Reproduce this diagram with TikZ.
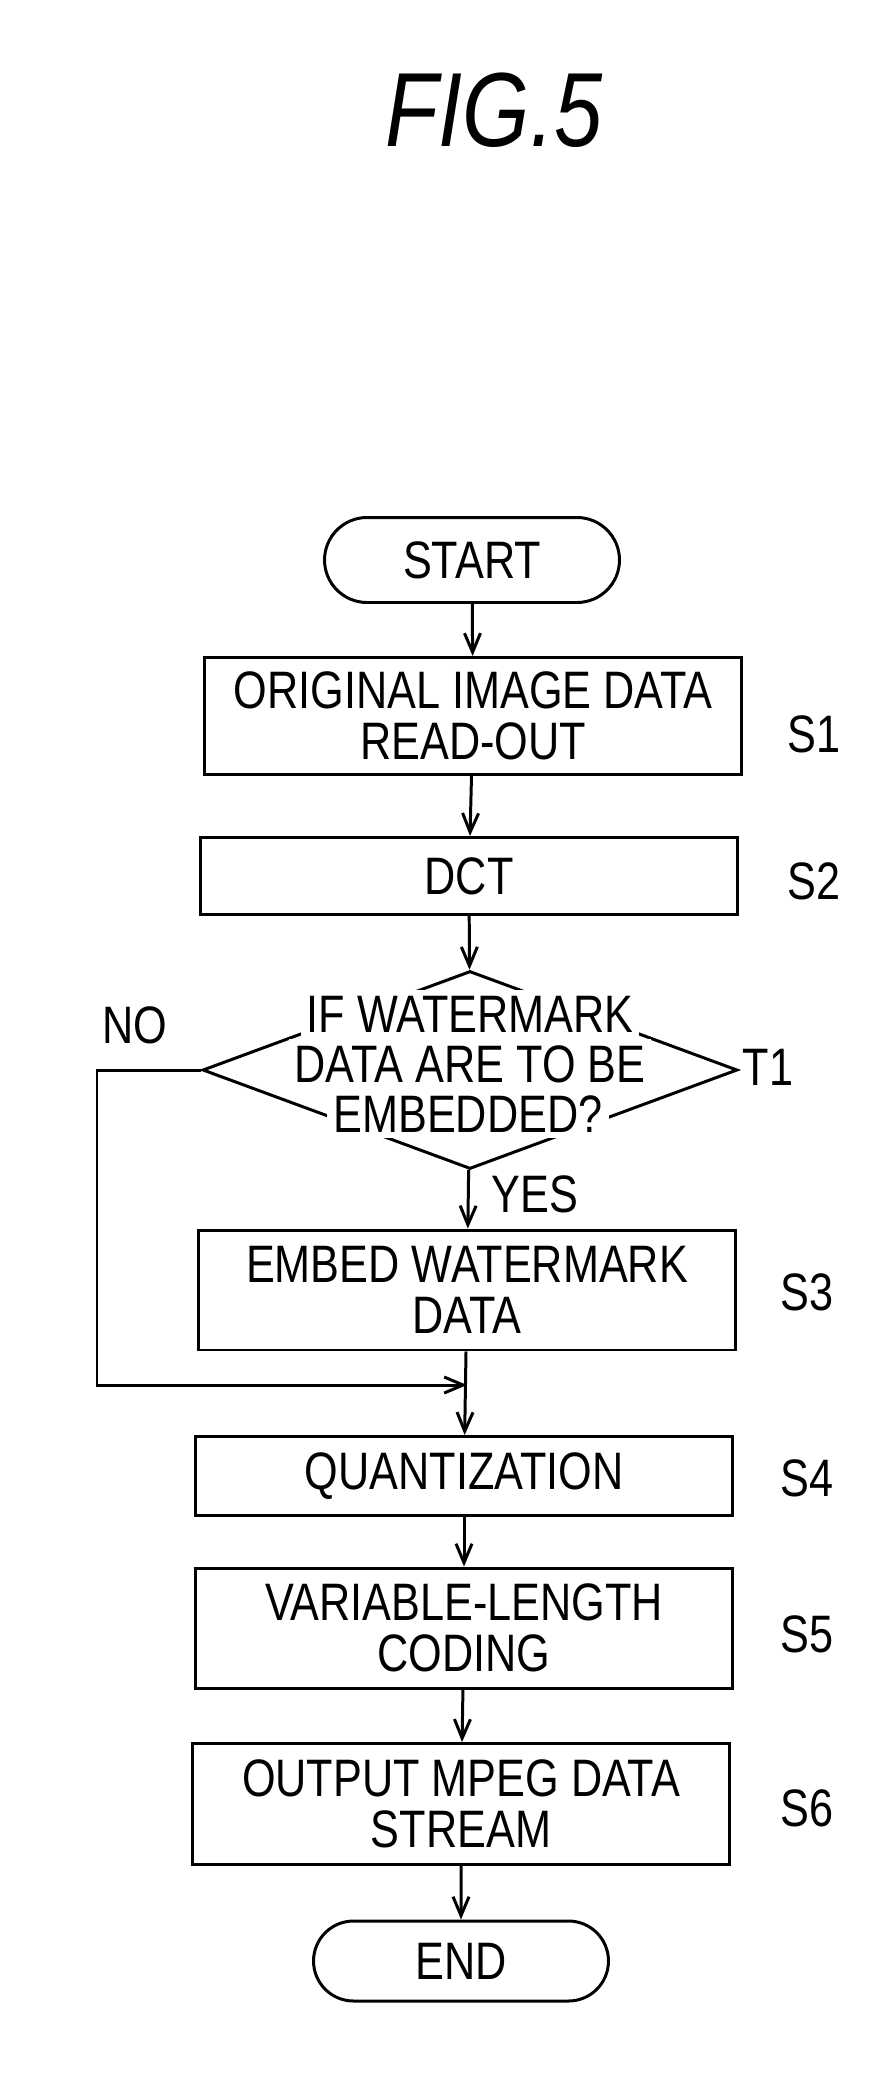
\documentclass[tikz,border=0pt]{standalone}
\usepackage{fontspec}
\setmainfont[FakeStretch=0.82]{Liberation Sans}
\usetikzlibrary{shapes.geometric,shapes.misc,arrows.meta}

\begin{document}
\begin{tikzpicture}[x=0.02cm,y=-0.02cm,line width=1.7pt,
  every node/.style={inner sep=0pt,font=\fontsize{30}{29}\selectfont},
  stepbox/.style={draw,rectangle,minimum width=10.75cm,align=center},
  termbox/.style={draw,rounded rectangle,minimum width=5.9cm,minimum height=1.7cm},
  testbox/.style={draw,diamond,minimum width=10.7cm,minimum height=3.96cm},
  testline/.style={fill=white,inner sep=3.5pt,anchor=base},
  flow/.style={-{Straight Barb[length=0.38cm,width=0.32cm]}}]
\useasboundingbox (0,0) rectangle (894,2091);
\node (fig) at (494,110) {\fontsize{60}{62}\selectfont\itshape FIG.5};
\node [termbox] (start) at (472,560) {START};
\node [stepbox,minimum height=2.34cm] (s1) at (473,716) {ORIGINAL IMAGE DATA\\READ-OUT};
\node [stepbox,minimum height=1.54cm] (s2) at (469,876) {DCT};
\node [testbox] (t1) at (470,1070) {};
\node [testline] (t1a) at (470,1032) {IF WATERMARK};
\node [testline] (t1b) at (470,1082) {DATA ARE TO BE};
\node [testline] (t1c) at (468,1132) {EMBEDDED?};
\node [stepbox,minimum height=2.4cm] (s3) at (467,1290) {EMBED WATERMARK\\DATA};
\node [stepbox,minimum height=1.58cm] (s4) at (464,1476) {QUANTIZATION};
\node [stepbox,minimum height=2.4cm] (s5) at (464,1628) {VARIABLE-LENGTH\\CODING};
\node [stepbox,minimum height=2.42cm] (s6) at (461,1804) {OUTPUT MPEG DATA\\STREAM};
\node [termbox,minimum height=1.6cm] (end) at (461,1961) {END};
% step labels
\node (ls1) at (814,734) {S1};
\node (ls2) at (814,881) {S2};
\node (lt1) at (768,1067) {T1};
\node (ls3) at (807,1292) {S3};
\node (ls4) at (807,1478) {S4};
\node (ls5) at (807,1634) {S5};
\node (ls6) at (807,1808) {S6};
\node (lno) at (135,1025) {NO};
\node [anchor=west] (lyes) at (490,1194) {YES};
% flow lines
\coordinate (join) at (467,1385);
\draw [flow] (start) -- (s1);
\draw [flow] (s1) -- (s2);
\draw [flow] (s2) -- (t1);
\draw [flow] (t1) -- (s3);
\draw [flow] (t1.west) -| (97,1385) -- (join);
\draw [flow] (s3) -- (s4);
\draw [flow] (s4) -- (s5);
\draw [flow] (s5) -- (s6);
\draw [flow] (s6) -- (end);
\end{tikzpicture}
\end{document}
